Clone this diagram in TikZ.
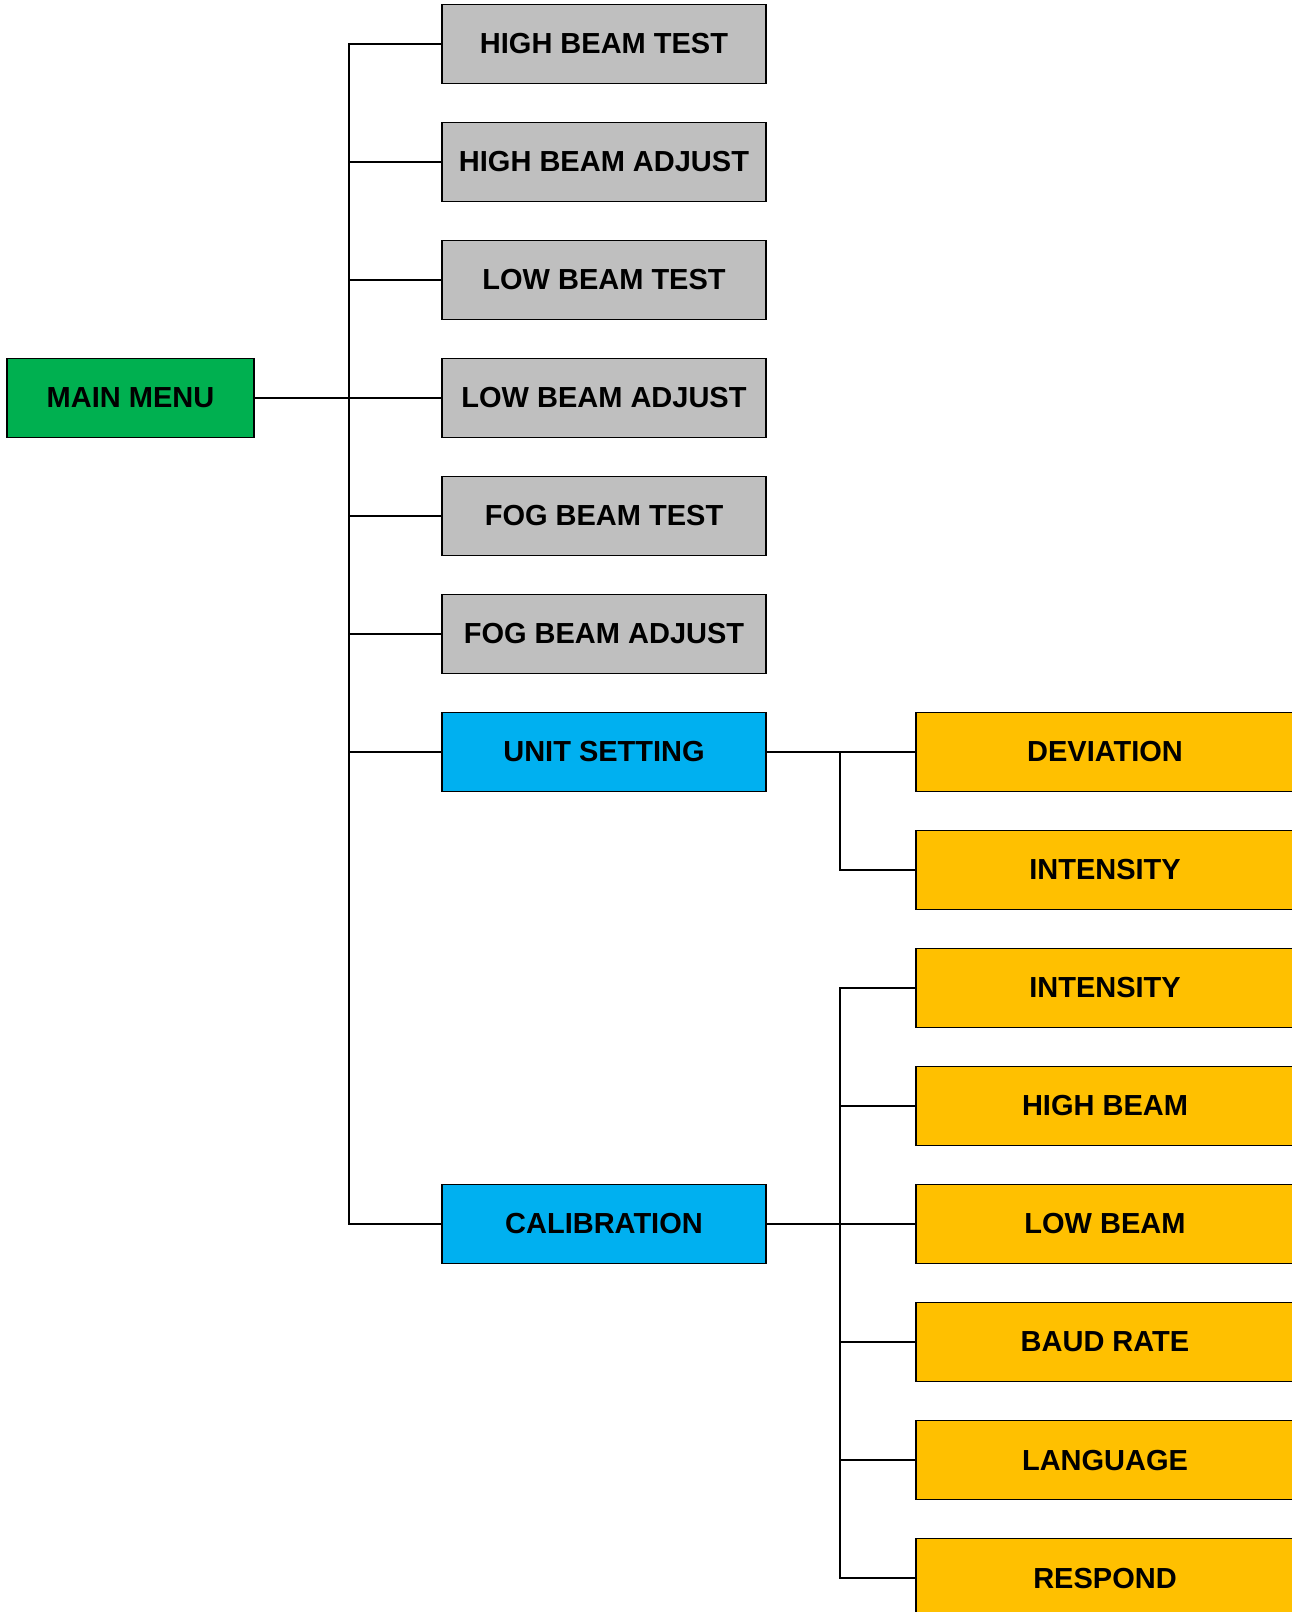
\documentclass[tikz,border=0pt]{standalone}
\usepackage{fontspec}
\setmainfont{Liberation Sans}
\begin{document}
\begin{tikzpicture}[x=1pt,y=-1pt,
  box/.style={draw=black, line width=1.8pt, minimum height=79pt, inner sep=0pt,
    font=\fontsize{29}{34}\selectfont\bfseries, text=black},
  mainbox/.style={box, fill={rgb,255:red,0;green,176;blue,80}, minimum width=247pt},
  graybox/.style={box, fill={rgb,255:red,191;green,191;blue,191}, minimum width=324pt},
  bluebox/.style={box, fill={rgb,255:red,0;green,176;blue,240}, minimum width=324pt},
  orangebox/.style={box, fill={rgb,255:red,255;green,192;blue,0}, minimum width=378pt},
  link/.style={draw=black, line width=1.8pt}]
\useasboundingbox (0,0) rectangle (1292,1612);
\clip (0,0) rectangle (1292,1612);

% root
\node[mainbox] (main) at (130.5,398) {MAIN MENU};

% first level
\node[graybox] (hbt) at (604,44)   {HIGH BEAM TEST};
\node[graybox] (hba) at (604,162)  {HIGH BEAM ADJUST};
\node[graybox] (lbt) at (604,280)  {LOW BEAM TEST};
\node[graybox] (lba) at (604,398)  {LOW BEAM ADJUST};
\node[graybox] (fbt) at (604,516)  {FOG BEAM TEST};
\node[graybox] (fba) at (604,634)  {FOG BEAM ADJUST};
\node[bluebox] (unit) at (604,752) {UNIT SETTING};
\node[bluebox] (cal) at (604,1224) {CALIBRATION};

% second level
\node[orangebox] (dev)  at (1105,752)  {DEVIATION};
\node[orangebox] (int1) at (1105,870)  {INTENSITY};
\node[orangebox] (int2) at (1105,988)  {INTENSITY};
\node[orangebox] (hb)   at (1105,1106) {HIGH BEAM};
\node[orangebox] (lb)   at (1105,1224) {LOW BEAM};
\node[orangebox] (baud) at (1105,1342) {BAUD RATE};
\node[orangebox] (lang) at (1105,1460) {LANGUAGE};
\node[orangebox] (resp) at (1105,1578) {RESPOND};

% trunk lines
\coordinate (t1) at (349,0);
\coordinate (t2) at (840,0);

\draw[link] (main.east) -- (lba.west);
\draw[link] (hbt.west) -| (t1 |- cal.west) -- (cal.west);
\foreach \n in {hba,lbt,fbt,fba,unit}
  \draw[link] (\n.west) -- (t1 |- \n.west);

\draw[link] (unit.east) -- (dev.west);
\draw[link] (t2 |- dev.west) |- (int1.west);

\draw[link] (cal.east) -- (lb.west);
\draw[link] (int2.west) -| (t2 |- resp.west) -- (resp.west);
\foreach \n in {hb,baud,lang}
  \draw[link] (\n.west) -- (t2 |- \n.west);
\end{tikzpicture}
\end{document}
